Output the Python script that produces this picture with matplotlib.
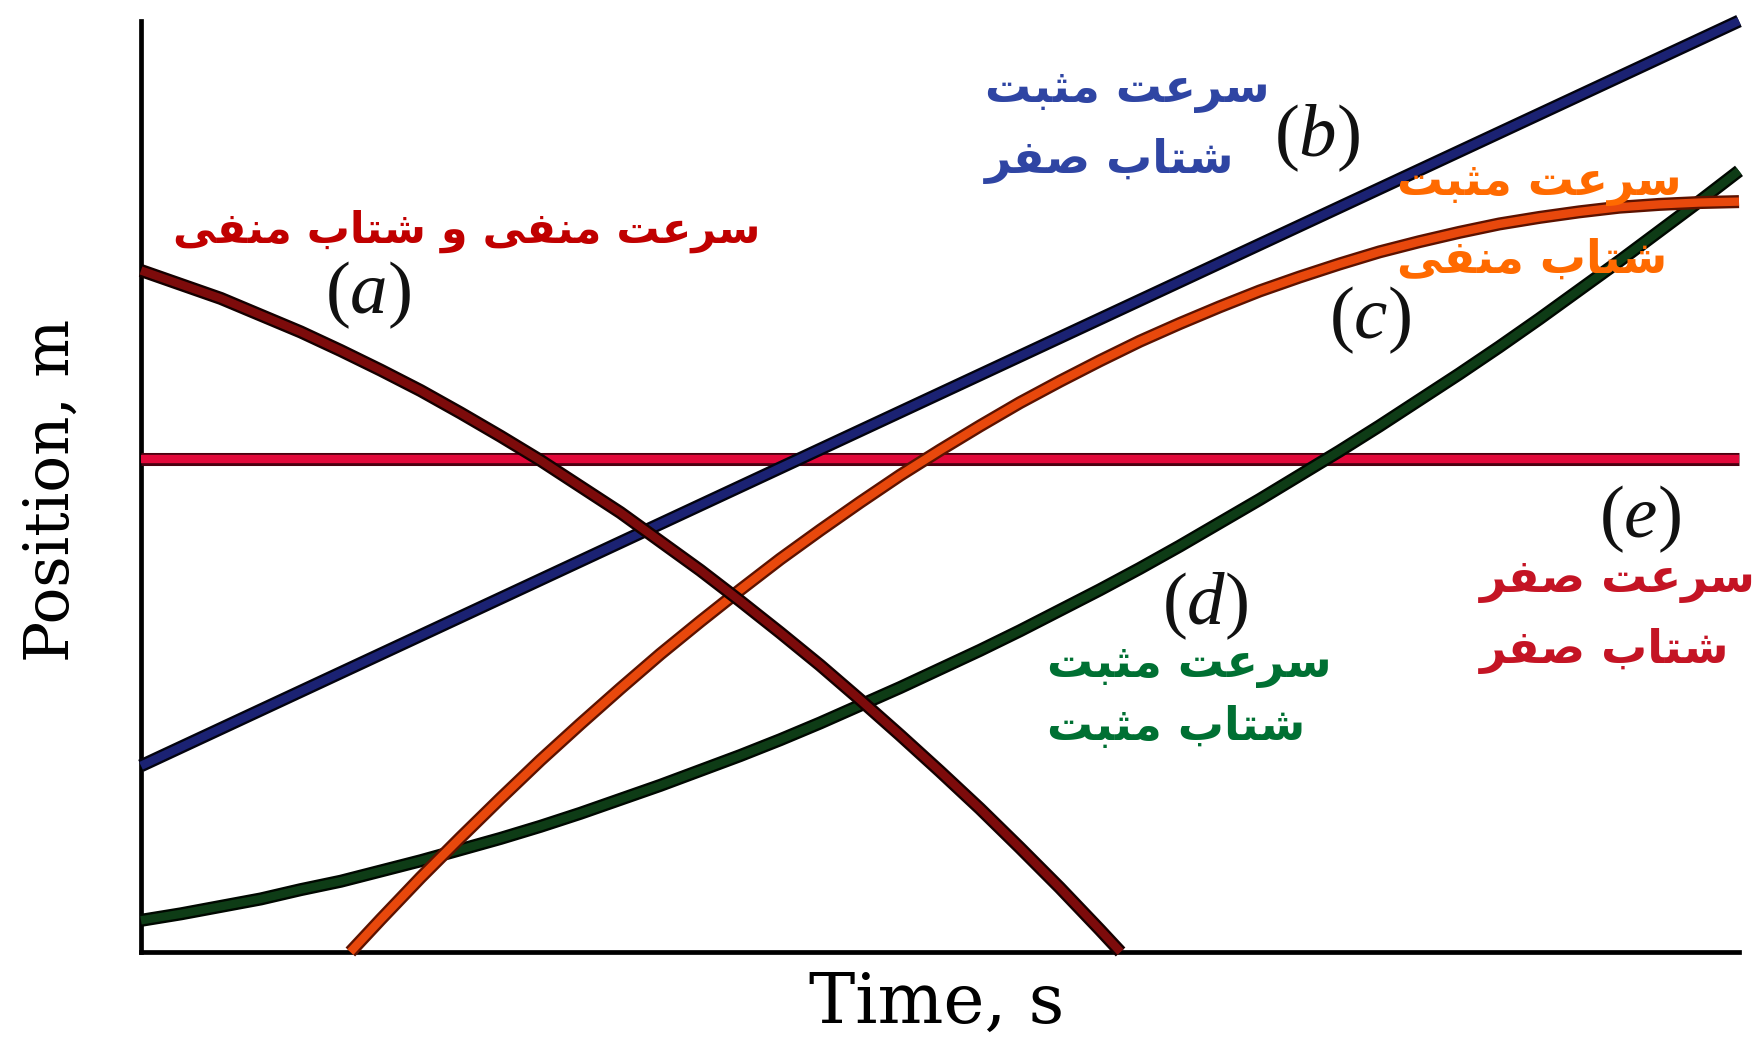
import matplotlib
matplotlib.use("Agg")
import matplotlib.pyplot as plt
import matplotlib.patheffects as pe

# position-time curves for five kinds of motion (arbitrary units)
t_a = [0, 0.25, 0.5, 0.75, 1.0, 1.25, 1.5, 1.75, 2.0, 2.25, 2.5, 2.75, 3.0, 3.25,
       3.5, 3.75, 4.0, 4.25, 4.5, 4.75, 5.0, 5.25, 5.5, 5.75, 6.0, 6.13]
pos_a = [7.32, 7.17, 7.02, 6.84, 6.66, 6.46, 6.25, 6.03, 5.79, 5.54, 5.28, 5.00, 4.72, 4.41,
         4.10, 3.77, 3.43, 3.08, 2.71, 2.33, 1.94, 1.54, 1.12, 0.69, 0.24, 0.0]

t_b = [0, 10]
pos_b = [2.0, 10.0]

t_c = [1.31, 1.5, 1.75, 2.0, 2.25, 2.5, 2.75, 3.0, 3.25, 3.5, 3.75, 4.0, 4.25, 4.5, 4.75,
       5.0, 5.25, 5.5, 5.75, 6.0, 6.25, 6.5, 6.75, 7.0, 7.25, 7.5, 7.75, 8.0, 8.25, 8.5,
       8.75, 9.0, 9.25, 9.5, 9.75, 10.0]
pos_c = [0.0, 0.35, 0.80, 1.23, 1.65, 2.06, 2.45, 2.83, 3.20, 3.55, 3.89, 4.22, 4.53, 4.83, 5.12,
         5.39, 5.65, 5.90, 6.13, 6.35, 6.56, 6.75, 6.93, 7.10, 7.25, 7.39, 7.52, 7.63, 7.73, 7.82,
         7.89, 7.95, 8.00, 8.03, 8.05, 8.06]

t_d = [0, 0.25, 0.5, 0.75, 1.0, 1.25, 1.5, 1.75, 2.0, 2.25, 2.5, 2.75, 3.0, 3.25, 3.5, 3.75,
       4.0, 4.25, 4.5, 4.75, 5.0, 5.25, 5.5, 5.75, 6.0, 6.25, 6.5, 6.75, 7.0, 7.25, 7.5, 7.75,
       8.0, 8.25, 8.5, 8.75, 9.0, 9.25, 9.5, 9.75, 10.0]
pos_d = [0.34, 0.41, 0.49, 0.57, 0.67, 0.76, 0.87, 0.98, 1.10, 1.22, 1.35, 1.49, 1.64, 1.79, 1.95, 2.11,
         2.28, 2.46, 2.65, 2.84, 3.04, 3.24, 3.45, 3.67, 3.89, 4.12, 4.36, 4.61, 4.86, 5.12, 5.38, 5.65,
         5.93, 6.21, 6.50, 6.80, 7.11, 7.42, 7.74, 8.06, 8.39]

t_e = [0, 10]
pos_e = [5.3, 5.3]

curve_tags = ["(a)", "(b)", "(c)", "(d)", "(e)"]
caption_a = ["سرعت منفی و شتاب منفی"]
caption_b = ["سرعت مثبت", "شتاب صفر"]
caption_c = ["سرعت مثبت", "شتاب منفی"]
caption_d = ["سرعت مثبت", "شتاب مثبت"]
caption_e = ["سرعت صفر", "شتاب صفر"]

# contextual glyph forms: isolated, final, initial, medial
FORMS = {
    "ا": ("\uFE8D", "\uFE8E", None, None),
    "ب": ("\uFE8F", "\uFE90", "\uFE91", "\uFE92"),
    "ت": ("\uFE95", "\uFE96", "\uFE97", "\uFE98"),
    "ث": ("\uFE99", "\uFE9A", "\uFE9B", "\uFE9C"),
    "ر": ("\uFEAD", "\uFEAE", None, None),
    "س": ("\uFEB1", "\uFEB2", "\uFEB3", "\uFEB4"),
    "ش": ("\uFEB5", "\uFEB6", "\uFEB7", "\uFEB8"),
    "ص": ("\uFEB9", "\uFEBA", "\uFEBB", "\uFEBC"),
    "ع": ("\uFEC9", "\uFECA", "\uFECB", "\uFECC"),
    "ف": ("\uFED1", "\uFED2", "\uFED3", "\uFED4"),
    "م": ("\uFEE1", "\uFEE2", "\uFEE3", "\uFEE4"),
    "ن": ("\uFEE5", "\uFEE6", "\uFEE7", "\uFEE8"),
    "و": ("\uFEED", "\uFEEE", None, None),
    "ی": ("\uFBFC", "\uFBFD", "\uFBFE", "\uFBFF"),
}


def shape(text):
    # join letters and put them in visual (left to right) order
    out = []
    for i, ch in enumerate(text):
        if ch not in FORMS:
            out.append(ch)
            continue
        prev = text[i - 1] if i > 0 else ""
        nxt = text[i + 1] if i + 1 < len(text) else ""
        iso, fin, ini, med = FORMS[ch]
        jp = prev in FORMS and FORMS[prev][2] is not None
        jn = nxt in FORMS and ini is not None
        if jp and jn:
            out.append(med)
        elif jp:
            out.append(fin)
        elif jn:
            out.append(ini)
        else:
            out.append(iso)
    return "".join(reversed(out))


plt.rcParams["mathtext.fontset"] = "custom"
plt.rcParams["mathtext.rm"] = "Liberation Serif"
plt.rcParams["mathtext.it"] = "Liberation Serif:italic"

W, H = 1759, 1038
fig = plt.figure(figsize=(W / 100, H / 100), dpi=100)
ax = fig.add_axes([141 / W, 1 - 952 / H, (1739 - 141) / W, (952 - 21) / H])
ax.set_xlim(0, 10)
ax.set_ylim(0, 10)
ax.set_xticks([])
ax.set_yticks([])
for s in ["top", "right"]:
    ax.spines[s].set_visible(False)
for s in ["left", "bottom"]:
    ax.spines[s].set_linewidth(3.4)
    ax.spines[s].set_color("black")
    ax.spines[s].set_zorder(1)


def curve(x, y, core, edge, z):
    ax.plot(x, y, color=core, lw=6.0, solid_capstyle="butt", solid_joinstyle="round",
            clip_on=False, zorder=z,
            path_effects=[pe.Stroke(linewidth=9.4, foreground=edge), pe.Normal()])


curve(t_e, pos_e, "#e2083a", "#4a0010", 2)
curve(t_d, pos_d, "#0e3c16", "#000800", 3)
curve(t_c, pos_c, "#e8480c", "#5c1200", 4)
curve(t_b, pos_b, "#1b2273", "#03030f", 5)
curve(t_a, pos_a, "#7d0b0b", "#140000", 6)

# curve tags
tag_xy = [(1.42, 7.06), (7.36, 8.75), (7.69, 6.79), (6.66, 3.72), (9.38, 4.66)]
for tag, (x, y) in zip(curve_tags, tag_xy):
    ax.text(x, y, "$(" + tag[1] + ")$", fontsize=54, ha="center", va="center",
            color="#111111", zorder=8)


def caption(lines, color, x, baselines, size=33):
    for line, yb in zip(lines, baselines):
        fig.text(x / W, 1 - yb / H, shape(line), color=color, fontsize=size,
                 fontweight="bold", family=["DejaVu Sans"], ha="left", va="baseline")


caption(caption_a, "#c00000", 173, [243], size=31)
caption(caption_b, "#2f45a3", 985, [102, 173])
caption(caption_c, "#ff6a00", 1397, [195, 273])
caption(caption_d, "#007033", 1047, [677, 740])
caption(caption_e, "#c41424", 1480, [592, 663])

fig.text(937 / W, 1 - 1023 / H, "Time, s", fontsize=50, family="DejaVu Serif",
         ha="center", va="baseline")
fig.text(52 / W, 1 - 490 / H, "Position, m", fontsize=44, family="DejaVu Serif",
         rotation=90, ha="center", va="center")

fig.savefig("out.png", dpi=100, facecolor="white")
